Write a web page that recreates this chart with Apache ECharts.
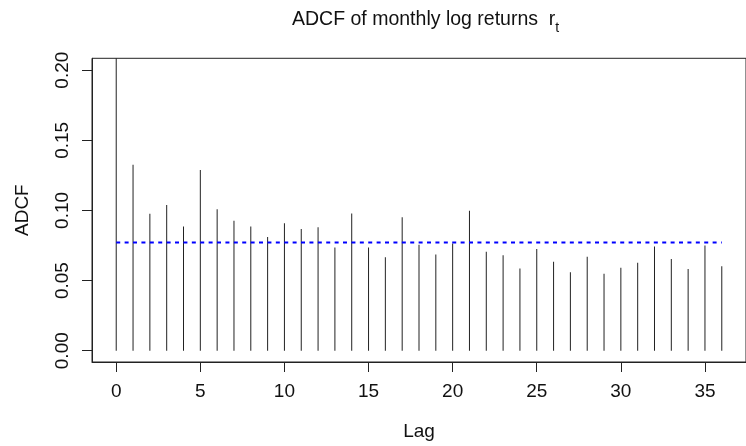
<!DOCTYPE html>
<html>
<head>
<meta charset="utf-8">
<script src="https://cdn.jsdelivr.net/npm/echarts@6/dist/echarts.min.js"></script>
<style>
  html, body { margin: 0; padding: 0; background: #fff; }
  #chart { width: 746px; height: 446px; }
</style>
</head>
<body>
<div id="chart"></div>
<script>
// ---- data ----
const lags = [0,1,2,3,4,5,6,7,8,9,10,11,12,13,14,15,16,17,18,19,20,21,22,23,24,25,26,27,28,29,30,31,32,33,34,35,36];
const adcf = [0.2085,0.1325,0.0976,0.1038,0.0886,0.1289,0.1009,0.0926,0.0886,0.0810,0.0909,0.0867,0.0881,0.0736,0.0978,0.0736,0.0667,0.0952,0.0755,0.0686,0.0764,0.0997,0.0705,0.0681,0.0586,0.0726,0.0634,0.0560,0.0670,0.0548,0.0591,0.0627,0.0743,0.0653,0.0582,0.0750,0.0603];
const threshold = 0.0771;
const thresholdRange = [0, 36];
const xTicks = [0,5,10,15,20,25,30,35];
const yTicks = [0,0.05,0.10,0.15,0.20];
const yTickLabels = ['0.00','0.05','0.10','0.15','0.20'];

const FONT = '"Liberation Sans", Arial, Helvetica, sans-serif';
const chart = echarts.init(document.getElementById('chart'), null, {renderer: 'canvas'});

chart.setOption({
  animation: false,
  backgroundColor: '#ffffff',
  title: {
    text: '{m|ADCF of monthly log returns  r}{s|t}',
    left: 292,
    top: 10,
    padding: 0,
    textStyle: {
      fontWeight: 'normal',
      rich: {
        m: {fontFamily: FONT, fontSize: 19.5, fontWeight: 'normal', color: '#111', lineHeight: 20, verticalAlign: 'top'},
        s: {fontFamily: FONT, fontSize: 14, fontWeight: 'normal', color: '#111', lineHeight: 36, verticalAlign: 'middle'}
      }
    }
  },
  grid: {
    left: 92, top: 58.3, width: 664.6, height: 304,
    show: true, borderColor: '#222', borderWidth: 1, backgroundColor: 'transparent',
    containLabel: false
  },
  xAxis: {
    type: 'value',
    min: -1.44, max: 37.44,
    name: 'Lag',
    nameLocation: 'middle',
    nameGap: 60,
    nameTextStyle: {fontFamily: FONT, fontSize: 19, color: '#111'},
    axisLine: {show: true, onZero: false, lineStyle: {color: '#222', width: 1}},
    axisTick: {show: true, inside: false, length: 10, customValues: xTicks, lineStyle: {color: '#222'}},
    axisLabel: {
      customValues: xTicks,
      margin: 20,
      fontFamily: FONT, fontSize: 19, color: '#111',
      formatter: v => String(v)
    },
    splitLine: {show: false}
  },
  yAxis: {
    type: 'value',
    min: -0.00805, max: 0.20847,
    name: 'ADCF',
    nameLocation: 'middle',
    nameGap: 60,
    nameRotate: 90,
    nameTextStyle: {fontFamily: FONT, fontSize: 19, color: '#111'},
    axisLine: {show: true, onZero: false, lineStyle: {color: '#222', width: 1}},
    axisTick: {show: true, inside: false, length: 10, customValues: yTicks, lineStyle: {color: '#222'}},
    axisLabel: {
      customValues: yTicks,
      rotate: 90,
      margin: 20,
      fontFamily: FONT, fontSize: 19, color: '#111',
      formatter: v => yTickLabels[yTicks.findIndex(t => Math.abs(t - v) < 1e-9)]
    },
    splitLine: {show: false}
  },
  series: [
    {
      type: 'bar',
      data: lags.map((l, i) => [l, adcf[i]]),
      barWidth: 1,
      itemStyle: {color: '#222'},
      silent: true
    },
    {
      type: 'line',
      data: thresholdRange.map(x => [x, threshold]),
      symbol: 'none',
      lineStyle: {color: '#0000ff', width: 2, type: [4, 4.4]},
      silent: true
    }
  ]
});
</script>
</body>
</html>
